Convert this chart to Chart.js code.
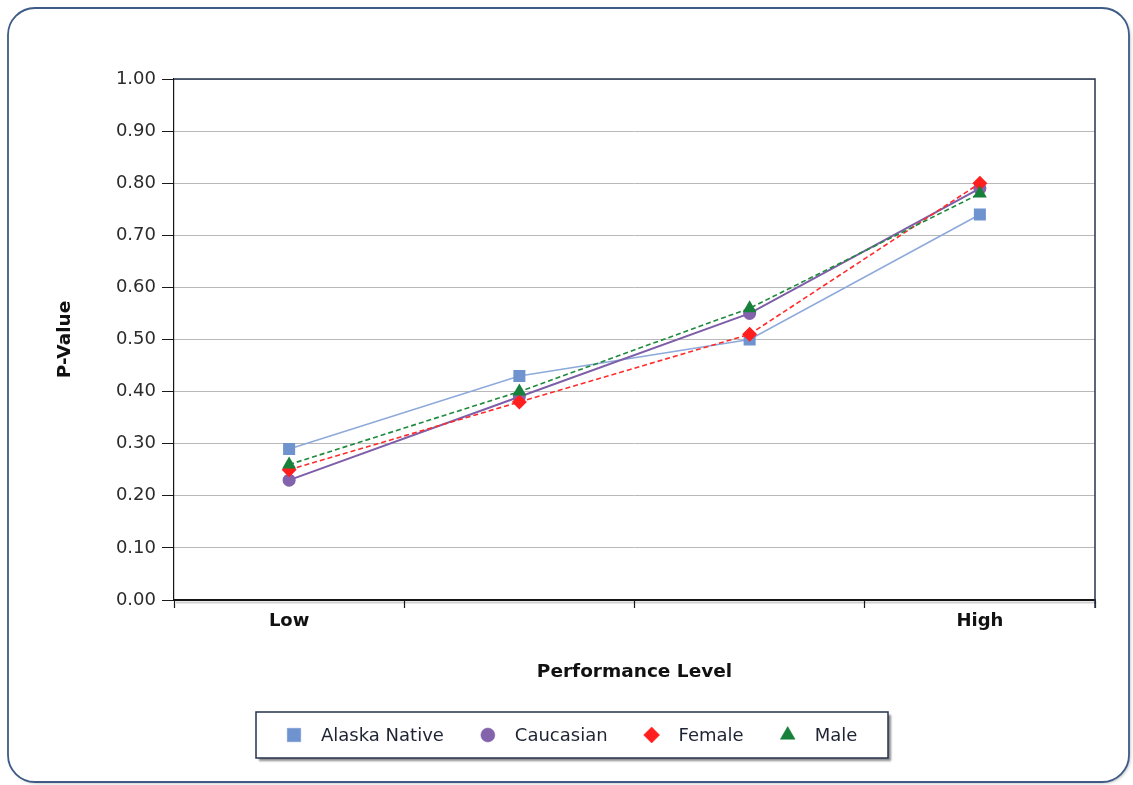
<!DOCTYPE html>
<html>
<head>
<meta charset="utf-8">
<title>P-Value by Performance Level</title>
<script src="https://cdn.jsdelivr.net/npm/chart.js@4.4.1/dist/chart.umd.min.js"></script>
<style>
  html, body { margin: 0; padding: 0; background: #ffffff; }
  #wrap { width: 1133px; height: 785px; }
</style>
</head>
<body>
<div id="wrap"><canvas id="c" width="1133" height="785"></canvas></div>
<script>
// Performance levels along the x axis (only the ends are labelled)
const categories = ['Low', '', '', 'High'];

// P-values for each group
const alaskaNative = [0.29, 0.43, 0.50, 0.74];
const caucasian    = [0.23, 0.39, 0.55, 0.79];
const female       = [0.25, 0.38, 0.51, 0.80];
const male         = [0.26, 0.40, 0.56, 0.78];

// Y axis ticks
const yMin = 0, yMax = 1, yStep = 0.1;

const FONT = "'DejaVu Sans', 'Liberation Sans', sans-serif";

// Rounded outer frame, white background and plot-area edges
const framePlugin = {
  id: 'frame',
  beforeDraw(chart) {
    const ctx = chart.ctx;
    ctx.save();
    ctx.fillStyle = '#ffffff';
    ctx.fillRect(0, 0, chart.width, chart.height);
    const x = 8, y = 8, w = chart.width - 12, h = chart.height - 11, r = 27;
    ctx.shadowColor = 'rgba(0,0,0,0.25)';
    ctx.shadowBlur = 3;
    ctx.shadowOffsetX = 1.5;
    ctx.shadowOffsetY = 1.5;
    ctx.beginPath();
    ctx.roundRect(x, y, w, h, r);
    ctx.fillStyle = '#ffffff';
    ctx.fill();
    ctx.shadowColor = 'transparent';
    ctx.lineWidth = 1.8;
    ctx.strokeStyle = '#3d5b86';
    ctx.stroke();
    ctx.restore();
  },
  beforeDatasetsDraw(chart) {
    const {ctx, chartArea: a} = chart;
    ctx.save();
    ctx.strokeStyle = '#27344f';
    ctx.lineWidth = 1.5;
    ctx.beginPath();
    ctx.moveTo(a.left, a.top);
    ctx.lineTo(a.right, a.top);
    ctx.lineTo(a.right, a.bottom + 8);
    ctx.stroke();
    // soft shadow under the x axis line
    ctx.strokeStyle = 'rgba(0,0,0,0.18)';
    ctx.lineWidth = 2;
    ctx.beginPath();
    ctx.moveTo(a.left + 2, a.bottom + 2.5);
    ctx.lineTo(a.right + 1, a.bottom + 2.5);
    ctx.stroke();
    ctx.restore();
  }
};

// Boxed legend below the axis title, built from the datasets
const boxLegendPlugin = {
  id: 'boxLegend',
  afterDraw(chart) {
    const ctx = chart.ctx;
    const bx = 256, by = 712, bw = 632, bh = 46, cy = by + bh / 2;
    ctx.save();
    ctx.shadowColor = 'rgba(0,0,0,0.45)';
    ctx.shadowBlur = 2;
    ctx.shadowOffsetX = 3;
    ctx.shadowOffsetY = 3;
    ctx.fillStyle = '#ffffff';
    ctx.fillRect(bx, by, bw, bh);
    ctx.shadowColor = 'transparent';
    ctx.strokeStyle = '#26324d';
    ctx.lineWidth = 1.5;
    ctx.strokeRect(bx, by, bw, bh);

    ctx.font = '18px ' + FONT;
    ctx.textBaseline = 'middle';
    ctx.textAlign = 'left';
    let mx = 294;
    chart.data.datasets.forEach(ds => {
      ctx.fillStyle = ds.pointBackgroundColor;
      ctx.strokeStyle = ds.pointBackgroundColor;
      ctx.lineWidth = 0.5;
      Chart.helpers.drawPoint(ctx, {
        pointStyle: ds.pointStyle, radius: ds.legendRadius, rotation: 0, borderWidth: 0.5
      }, mx, cy);
      const tx = mx + 27;
      ctx.fillStyle = '#1e2433';
      ctx.fillText(ds.label, tx, cy + 1);
      mx = tx + ctx.measureText(ds.label).width + 44;
    });
    ctx.restore();
  }
};

const datasets = [
  {
    label: 'Alaska Native', data: alaskaNative, order: 4,
    borderColor: '#8eaadb', borderWidth: 1.6,
    pointStyle: 'rect', pointRadius: 8.5, legendRadius: 9.5,
    pointBackgroundColor: '#6f93cf', pointBorderColor: '#6f93cf', pointBorderWidth: 0
  },
  {
    label: 'Caucasian', data: caucasian, order: 3,
    borderColor: '#7e5ea8', borderWidth: 2,
    pointStyle: 'circle', pointRadius: 6.5, legendRadius: 7,
    pointBackgroundColor: '#8363ab', pointBorderColor: '#8363ab', pointBorderWidth: 0
  },
  {
    label: 'Female', data: female, order: 2,
    borderColor: '#ff2b2b', borderWidth: 1.6, borderDash: [5, 3],
    pointStyle: 'rectRot', pointRadius: 7.5, legendRadius: 8,
    pointBackgroundColor: '#ff1f1f', pointBorderColor: '#ff1f1f', pointBorderWidth: 0
  },
  {
    label: 'Male', data: male, order: 1,
    borderColor: '#1f8a3c', borderWidth: 1.6, borderDash: [5, 3],
    pointStyle: 'triangle', pointRadius: 8, legendRadius: 8.5,
    pointBackgroundColor: '#17803a', pointBorderColor: '#17803a', pointBorderWidth: 0
  }
];

new Chart(document.getElementById('c'), {
  type: 'line',
  data: { labels: categories, datasets: datasets },
  plugins: [framePlugin, boxLegendPlugin],
  options: {
    responsive: false,
    animation: false,
    layout: { padding: { left: 0, top: 79, right: 38, bottom: 90 } },
    elements: { line: { tension: 0, fill: false } },
    plugins: {
      legend: { display: false },
      tooltip: { enabled: false }
    },
    scales: {
      x: {
        type: 'category',
        offset: true,
        afterFit(scale) { scale.height = 95; },
        grid: {
          display: true, offset: true, drawOnChartArea: false,
          drawTicks: true, tickLength: 8, tickColor: '#1a1a1a', tickWidth: 1.2
        },
        border: { display: true, color: '#151515', width: 2 },
        ticks: {
          color: '#111111', padding: 3, autoSkip: false, maxRotation: 0,
          font: { family: FONT, size: 18, weight: 'bold' }
        },
        title: {
          display: true, text: 'Performance Level', color: '#111111',
          font: { family: FONT, size: 18.5, weight: 'bold' },
          padding: { top: 0, bottom: 12 }
        }
      },
      y: {
        min: yMin, max: yMax,
        afterFit(scale) { scale.width = 174; },
        grid: {
          color: '#b9b9b9', lineWidth: 1,
          tickColor: '#1a1a1a', tickLength: 12, tickWidth: 1
        },
        border: { display: true, color: '#151515', width: 1.2 },
        ticks: {
          stepSize: yStep, padding: 6, color: '#2b2b2b',
          font: { family: FONT, size: 18 },
          callback: v => Number(v).toFixed(2)
        },
        title: {
          display: true, text: 'P-Value', color: '#111111',
          font: { family: FONT, size: 18.5, weight: 'bold' },
          padding: { top: 54, bottom: 0 }
        }
      }
    }
  }
});
</script>
</body>
</html>
